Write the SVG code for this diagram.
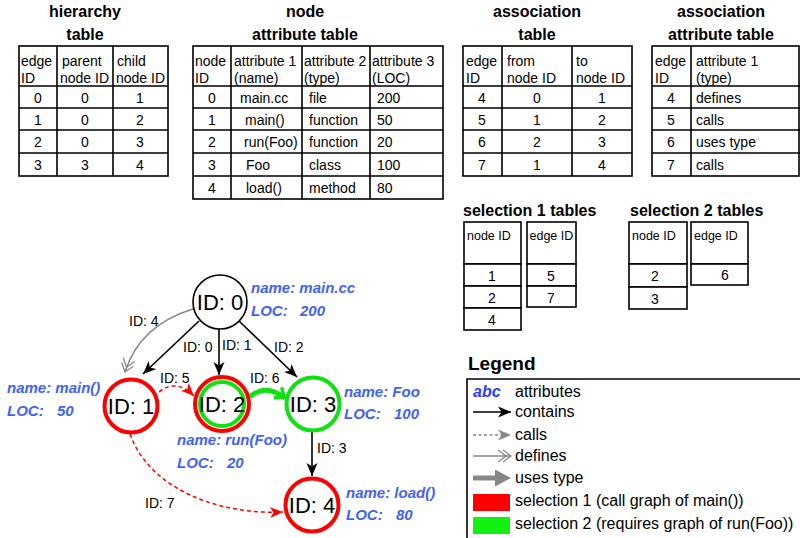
<svg xmlns="http://www.w3.org/2000/svg" width="800" height="538" viewBox="0 0 800 538">
  <style>
    text { font-family: "Liberation Sans", Arial, sans-serif; fill: #000; }
    .title { font-size: 16px; font-weight: bold; text-anchor: middle; }
    .stitle { font-size: 16px; font-weight: bold; }
    .cell { font-size: 14px; }
    .shead { font-size: 12.5px; }
    .num { font-size: 14px; text-anchor: middle; }
    .tbl { fill: #fff; stroke: #000; stroke-width: 1.6; }
    .grid { stroke: #000; stroke-width: 1.6; fill: none; }
    .node-id { font-size: 22px; text-anchor: middle; }
    .attr { font-size: 15px; font-weight: bold; font-style: italic; fill: #4262f5; }
    .elabel { font-size: 14px; }
    .legend { font-size: 16px; }
    .contains { stroke: #000; stroke-width: 1.6; fill: none; }
    .calls { stroke: #ff0000; stroke-width: 1.5; stroke-dasharray: 4 3; fill: none; }
    .defines { stroke: #888; stroke-width: 1.5; fill: none; }
    .uses { stroke: #11e011; stroke-width: 5; fill: none; }
  </style>
  <defs>
    <marker id="arrBlack" markerUnits="userSpaceOnUse" markerWidth="14" markerHeight="12" refX="13" refY="6" orient="auto">
      <path d="M0,0.5 L13,6 L0,11.5 L3.5,6 z" fill="#000"/>
    </marker>
    <marker id="arrRed" markerUnits="userSpaceOnUse" markerWidth="14" markerHeight="12" refX="13" refY="6" orient="auto">
      <path d="M0,0.5 L13,6 L0,11.5 L3.5,6 z" fill="#ff0000"/>
    </marker>
    <marker id="arrGray" markerUnits="userSpaceOnUse" markerWidth="14" markerHeight="12" refX="13" refY="6" orient="auto">
      <path d="M0,0.5 L13,6 L0,11.5 L3.5,6 z" fill="#888"/>
    </marker>
    <marker id="chevGray" markerUnits="userSpaceOnUse" markerWidth="16" markerHeight="14" refX="14" refY="7" orient="auto">
      <path d="M1,1 L9,7 L1,13 M6,1 L14,7 L6,13" fill="none" stroke="#888" stroke-width="1.3"/>
    </marker>
    <marker id="chevGreen" markerUnits="userSpaceOnUse" markerWidth="14" markerHeight="16" refX="11" refY="8" orient="auto">
      <path d="M2,1.5 L10,8 L2,14.5" fill="none" stroke="#11e011" stroke-width="3.5" stroke-linejoin="miter"/>
    </marker>
  </defs>

  <!-- hierarchy table -->
  <g id="hierarchy-table">
    <text class="title" x="85" y="17">hierarchy</text>
    <text class="title" x="85" y="40">table</text>
    <rect class="tbl" x="19" y="46" width="149" height="130"/>
    <path class="grid" d="M57,46 V176 M113,46 V176 M19,86 H168 M19,108 H168 M19,130 H168 M19,153 H168"/>
    <text class="cell" x="21" y="66">edge</text>
    <text class="cell" x="21" y="83">ID</text>
    <text class="cell" x="62" y="66">parent</text>
    <text class="cell" x="60" y="83">node ID</text>
    <text class="cell" x="117" y="66">child</text>
    <text class="cell" x="116" y="83">node ID</text>
    <text class="num" x="38" y="103">0</text><text class="num" x="85" y="103">0</text><text class="num" x="140" y="103">1</text>
    <text class="num" x="38" y="125">1</text><text class="num" x="85" y="125">0</text><text class="num" x="140" y="125">2</text>
    <text class="num" x="38" y="147">2</text><text class="num" x="85" y="147">0</text><text class="num" x="140" y="147">3</text>
    <text class="num" x="38" y="170">3</text><text class="num" x="85" y="170">3</text><text class="num" x="140" y="170">4</text>
  </g>

  <!-- node attribute table -->
  <g id="node-attribute-table">
    <text class="title" x="305" y="17">node</text>
    <text class="title" x="305" y="40">attribute table</text>
    <rect class="tbl" x="193" y="46" width="250" height="153"/>
    <path class="grid" d="M231,46 V199 M302,46 V199 M370,46 V199 M193,86 H443 M193,108 H443 M193,130 H443 M193,153 H443 M193,176 H443"/>
    <text class="cell" x="195" y="66">node</text>
    <text class="cell" x="195" y="83">ID</text>
    <text class="cell" x="234" y="66">attribute 1</text>
    <text class="cell" x="234" y="83">(name)</text>
    <text class="cell" x="304" y="66">attribute 2</text>
    <text class="cell" x="304" y="83">(type)</text>
    <text class="cell" x="372" y="66">attribute 3</text>
    <text class="cell" x="372" y="83">(LOC)</text>
    <text class="num" x="212" y="103">0</text><text class="cell" x="240" y="103">main.cc</text><text class="cell" x="309" y="103">file</text><text class="cell" x="377" y="103">200</text>
    <text class="num" x="212" y="125">1</text><text class="cell" x="245" y="125">main()</text><text class="cell" x="309" y="125">function</text><text class="cell" x="377" y="125">50</text>
    <text class="num" x="212" y="147">2</text><text class="cell" x="244" y="147">run(Foo)</text><text class="cell" x="309" y="147">function</text><text class="cell" x="377" y="147">20</text>
    <text class="num" x="212" y="170">3</text><text class="cell" x="246" y="170">Foo</text><text class="cell" x="309" y="170">class</text><text class="cell" x="377" y="170">100</text>
    <text class="num" x="212" y="193">4</text><text class="cell" x="246" y="193">load()</text><text class="cell" x="309" y="193">method</text><text class="cell" x="377" y="193">80</text>
  </g>

  <!-- association table -->
  <g id="association-table">
    <text class="title" x="537" y="17">association</text>
    <text class="title" x="537" y="40">table</text>
    <rect class="tbl" x="463" y="46" width="169" height="130"/>
    <path class="grid" d="M502,46 V176 M572,46 V176 M463,86 H632 M463,108 H632 M463,130 H632 M463,153 H632"/>
    <text class="cell" x="466" y="66">edge</text>
    <text class="cell" x="466" y="83">ID</text>
    <text class="cell" x="507" y="66">from</text>
    <text class="cell" x="507" y="83">node ID</text>
    <text class="cell" x="576" y="66">to</text>
    <text class="cell" x="576" y="83">node ID</text>
    <text class="num" x="482" y="103">4</text><text class="num" x="537" y="103">0</text><text class="num" x="602" y="103">1</text>
    <text class="num" x="482" y="125">5</text><text class="num" x="537" y="125">1</text><text class="num" x="602" y="125">2</text>
    <text class="num" x="482" y="147">6</text><text class="num" x="537" y="147">2</text><text class="num" x="602" y="147">3</text>
    <text class="num" x="482" y="170">7</text><text class="num" x="537" y="170">1</text><text class="num" x="602" y="170">4</text>
  </g>

  <!-- association attribute table -->
  <g id="association-attribute-table">
    <text class="title" x="721" y="17">association</text>
    <text class="title" x="721" y="40">attribute table</text>
    <rect class="tbl" x="652" y="46" width="147" height="130"/>
    <path class="grid" d="M691,46 V176 M652,86 H800 M652,108 H800 M652,130 H800 M652,153 H800"/>
    <text class="cell" x="655" y="66">edge</text>
    <text class="cell" x="655" y="83">ID</text>
    <text class="cell" x="696" y="66">attribute 1</text>
    <text class="cell" x="696" y="83">(type)</text>
    <text class="num" x="671" y="103">4</text><text class="cell" x="696" y="103">defines</text>
    <text class="num" x="671" y="125">5</text><text class="cell" x="696" y="125">calls</text>
    <text class="num" x="671" y="147">6</text><text class="cell" x="696" y="147">uses type</text>
    <text class="num" x="671" y="170">7</text><text class="cell" x="696" y="170">calls</text>
  </g>

  <!-- selection 1 tables -->
  <g id="selection-1-tables">
    <text class="stitle" x="463" y="216">selection 1 tables</text>
    <rect class="tbl" x="464" y="222" width="57" height="42"/>
    <rect class="tbl" x="464" y="264" width="57" height="22"/>
    <rect class="tbl" x="464" y="286" width="57" height="22"/>
    <rect class="tbl" x="464" y="308" width="57" height="22"/>
    <text class="shead" x="467" y="240">node ID</text>
    <text class="num" x="492" y="281">1</text>
    <text class="num" x="492" y="303">2</text>
    <text class="num" x="492" y="325">4</text>
    <rect class="tbl" x="527" y="222" width="49" height="42"/>
    <rect class="tbl" x="527" y="264" width="49" height="22"/>
    <rect class="tbl" x="527" y="286" width="49" height="21"/>
    <text class="shead" x="529.5" y="240">edge ID</text>
    <text class="num" x="551" y="281">5</text>
    <text class="num" x="551" y="303">7</text>
  </g>

  <!-- selection 2 tables -->
  <g id="selection-2-tables">
    <text class="stitle" x="630" y="216">selection 2 tables</text>
    <rect class="tbl" x="629" y="222" width="58" height="42"/>
    <rect class="tbl" x="629" y="264" width="58" height="23"/>
    <rect class="tbl" x="629" y="287" width="58" height="22"/>
    <text class="shead" x="632" y="240">node ID</text>
    <text class="num" x="655" y="281">2</text>
    <text class="num" x="655" y="304">3</text>
    <rect class="tbl" x="691" y="222" width="57" height="42"/>
    <rect class="tbl" x="691" y="264" width="57" height="21"/>
    <text class="shead" x="694" y="240">edge ID</text>
    <text class="num" x="725" y="280">6</text>
  </g>

  <!-- graph connectors -->
  <g id="connectors">
    <path class="defines" d="M193,309 Q140,325 125,372" marker-end="url(#chevGray)"/>
    <path class="contains" d="M199,321 L143,374" marker-end="url(#arrBlack)"/>
    <path class="contains" d="M219,329 L219,375" marker-end="url(#arrBlack)"/>
    <path class="contains" d="M239,321 L297,377" marker-end="url(#arrBlack)"/>
    <path class="contains" d="M312,431 L312,476" marker-end="url(#arrBlack)"/>
    <path class="calls" d="M159,392 Q176,378 194,396" marker-end="url(#arrRed)"/>
    <path class="uses" d="M250,397 Q265,383 285,398" marker-end="url(#chevGreen)"/>
    <path class="calls" d="M130,434 C150,490 220,515 283,512" marker-end="url(#arrRed)"/>
    <text class="elabel" x="129" y="326">ID: 4</text>
    <text class="elabel" x="183" y="352">ID: 0</text>
    <text class="elabel" x="222" y="350">ID: 1</text>
    <text class="elabel" x="274" y="352">ID: 2</text>
    <text class="elabel" x="160" y="383">ID: 5</text>
    <text class="elabel" x="250" y="383">ID: 6</text>
    <text class="elabel" x="317" y="453">ID: 3</text>
    <text class="elabel" x="145" y="508">ID: 7</text>
  </g>

  <!-- graph nodes -->
  <g id="node-0">
    <circle cx="220" cy="302" r="27" fill="#fff" stroke="#000" stroke-width="1.6"/>
    <text class="node-id" x="220" y="310">ID: 0</text>
    <text class="attr" x="251" y="293">name: main.cc</text>
    <text class="attr" x="251" y="316">LOC:<tspan x="300">200</tspan></text>
  </g>
  <g id="node-1">
    <circle cx="131" cy="406" r="26.5" fill="#fff" stroke="#ff0000" stroke-width="4"/>
    <text class="node-id" x="131" y="414">ID: 1</text>
    <text class="attr" x="7" y="393">name: main()</text>
    <text class="attr" x="7" y="416">LOC:<tspan x="57">50</tspan></text>
  </g>
  <g id="node-2">
    <circle cx="222" cy="404" r="27" fill="#fff" stroke="#ff0000" stroke-width="4"/>
    <circle cx="222" cy="404" r="22" fill="none" stroke="#11e011" stroke-width="4"/>
    <text class="node-id" x="222" y="412">ID: 2</text>
    <text class="attr" x="177" y="445">name: run(Foo)</text>
    <text class="attr" x="177" y="468">LOC:<tspan x="227">20</tspan></text>
  </g>
  <g id="node-3">
    <circle cx="313" cy="404" r="26.5" fill="#fff" stroke="#11e011" stroke-width="4"/>
    <text class="node-id" x="313" y="412">ID: 3</text>
    <text class="attr" x="344" y="397">name: Foo</text>
    <text class="attr" x="344" y="419">LOC:<tspan x="394">100</tspan></text>
  </g>
  <g id="node-4">
    <circle cx="312" cy="505" r="26.5" fill="#fff" stroke="#ff0000" stroke-width="4"/>
    <text class="node-id" x="312" y="513">ID: 4</text>
    <text class="attr" x="346" y="498">name: load()</text>
    <text class="attr" x="346" y="520">LOC:<tspan x="396">80</tspan></text>
  </g>

  <!-- legend -->
  <g id="legend">
    <text x="468" y="370" style="font-size:19px;font-weight:bold">Legend</text>
    <path d="M800,379 H467 V538" fill="none" stroke="#000" stroke-width="1.6"/>
    <text x="473" y="397" style="font-size:16px;font-weight:bold;font-style:italic;fill:#2a3cff">abc</text>
    <text class="legend" x="515" y="397">attributes</text>
    <path d="M473,412 L511,412" stroke="#000" stroke-width="1.6" marker-end="url(#arrBlack)"/>
    <text class="legend" x="515" y="417">contains</text>
    <path d="M473,435 L511,435" stroke="#888" stroke-width="1.5" stroke-dasharray="3 2.5" marker-end="url(#arrGray)"/>
    <text class="legend" x="515" y="440">calls</text>
    <path d="M473,456 L511,456" stroke="#888" stroke-width="1.3" marker-end="url(#chevGray)"/>
    <text class="legend" x="515" y="461">defines</text>
    <path d="M473,478 L498,478" stroke="#888" stroke-width="5"/>
    <path d="M495,469.5 L511,478 L495,486.5 z" fill="#888"/>
    <text class="legend" x="515" y="483">uses type</text>
    <rect x="473" y="494" width="37" height="17" fill="#ff0000"/>
    <text class="legend" x="515" y="506">selection 1 (call graph of main())</text>
    <rect x="473" y="517" width="37" height="17" fill="#11f011"/>
    <text class="legend" x="515" y="529">selection 2 (requires graph of run(Foo))</text>
  </g>
</svg>
